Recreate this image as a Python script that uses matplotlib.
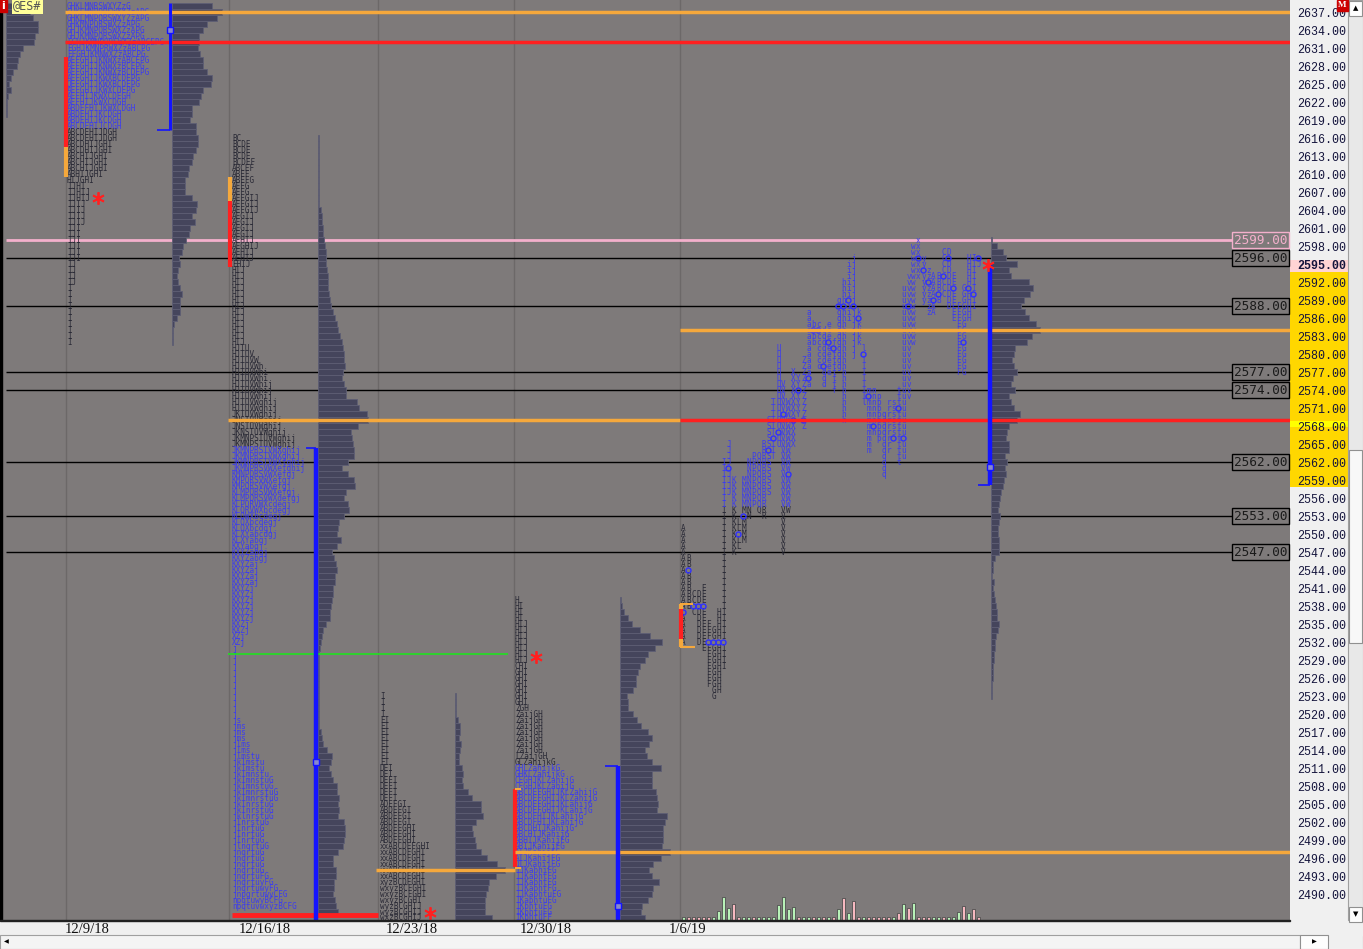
import matplotlib.pyplot as plt
from matplotlib.patches import Rectangle

W, H, DPI = 1363, 949, 100

BG = '#7e7a7a'
DARK = '#2a2a36'
BLUE = '#3c3cf0'
BAR = '#45455c'
BAR_EDGE = '#5e5e74'
LINE_BLUE = '#1414ff'
ORANGE = '#f5a83c'
RED = '#ff2020'

# ---------------- data ----------------
axis_prices = list(range(2490, 2638, 3))
week_labels = ['12/9/18', '12/16/18', '12/23/18', '12/30/18', '1/6/19']

ref_levels = [2596, 2588, 2577, 2574, 2562, 2553, 2547]
pink_level = 2599

# partial week on the far left (histogram only)
wk0_top = 2638
wk0_hist = [22, 24, 27, 32, 32, 29, 28, 17, 14, 12, 11, 7, 5, 3, 5, 2, 1, 1, 1]

# week of 12/9
wk1_top = 2638
wk1_rows = [
    'GHKLMNRSWXYZzG', 'GHKLMNPQRSWXYZzAPG', 'GHKLMNPQRSWXYZzAPG', 'GHKMNPQRSWXZzAPG',
    'GHJKMNPQRSWXZzAPG', 'GHJKMNPQRSWXZzAPG', 'EGHJKMNPQRSWXZzABCEPG', 'EGHJKMNPRWXZzABCPG',
    'EFGHJKMNWXZzABCPG', 'AEFGHIJKNWXzABCEPG', 'AEFGHIJKNWXzBCEPG', 'AEFGHIJKNWXzBCDEPG',
    'AEFGHIJKWXBCDEPG', 'QEFGHIJKWXBCDEPG', 'AEFGHIJKWXCDEPG', 'AEFHIJKWXCDEGH',
    'AEFHIJKWXCDGH', 'ABDEFHIJKWXCDGH', 'ABDEHIJKCDGH', 'ABDEHIJKCDGH', 'ABCDEHIJCDGH',
    'ABCDEHIJDGH', 'ABCDEHIJDGH', 'ABCDHIJGHI', 'ABCDHIJGHI', 'ABCHIJGHI', 'ABCHIJGHI',
    'ABCHIJGHI', 'ABHIJGHI', 'HIJGHI', 'IJHI', 'IJHIJ', 'IJHIJ', 'IJIJ', 'IJIJ', 'IJIJ',
    'IJIJ', 'IJI', 'IJI', 'IJI', 'IJI', 'IJI', 'IJI', 'IJ', 'IJ', 'IJ', 'IJ',
    'I', 'I', 'I', 'I', 'I', 'I', 'I', 'I', 'I', 'I',
]
wk1_blue = range(0, 21)
wk1_hist = [40, 50, 45, 35, 31, 27, 27, 26, 28, 31, 31, 35, 40, 39, 31, 29, 27, 20, 20, 18,
            24, 24, 26, 26, 24, 21, 20, 17, 16, 13, 13, 13, 20, 25, 24, 20, 23, 18, 17, 14,
            11, 10, 7, 8, 6, 5, 6, 8, 10, 8, 8, 8, 5, 2, 1, 1, 1]

# week of 12/16
wk2_top = 2616
wk2_rows = [
    'BC', 'BCDE', 'BCDE', 'BCDE', 'BCDEF', 'ABCEF', 'ABEF', 'ABEFG', 'AEFG', 'AEFG',
    'AEFGIJ', 'AEFGIJ', 'AEFGIJ', 'AEGIJ', 'AEGIJ', 'AEGIJ', 'AEGIJ', 'AEHIJ', 'AEGHIJ',
    'AEHIJ', 'AEHIJ', 'EHIJ', 'HIJ', 'HIJ', 'HIJ', 'HIJ', 'HIJ', 'HIJ', 'HIJ', 'HIJ',
    'HIJ', 'HIJ', 'HIJ', 'HIJ', 'HIJ', 'HJTU', 'HJTUV', 'HJTUVW', 'HJTUVWh', 'HJTUVWhi',
    'HJTUVWhi', 'HJTUVWhij', 'HJTUVWhij', 'HJTUVWhij', 'HJTUVWghij', 'HJTUVWghij',
    'JKTUVWghij', 'JNSTUVWghij', 'JNSTUVWghij', 'JKNSTUVWghij', 'JKMNPSTUVWghij',
    'JKMNPSTUVWghij', 'JKMNPRSTVWXghij', 'JKMNPRSTVWXghij', 'JKMNPRSTVWXfghij',
    'JKMNPRSVWXefghij', 'KMNPQRSVWXefgj', 'KMPQRSVWXefgj', 'KMPQRSVWXefgj',
    'KLMPQRSVWXefgj', 'KLMPQRSVWXdefgj', 'KLPQRVWXcdegj', 'KLQRVWXbcdegj', 'KLQWXbcdegj',
    'KLQXbcdegj', 'KLQXbcdgj', 'KLXYabcdgj', 'KLXYabgj', 'KXYabgj', 'KXYZabgj', 'KXYZabgj',
    'KXYZaj', 'KXYZaj', 'KXYZaj', 'KXYZaj', 'KXYZj', 'KXYZj', 'KXYZj', 'KXYZj', 'KXYZj',
    'KXYZj', 'KXZj', 'KXZj', 'XZj', 'XZj', 'j', 'j', 'j', 'j', 'j', 'j', 'j', 'j', 'j',
    'j', 'j', 'j', 'js', 'jms', 'jms', 'jms', 'jlms', 'jlms', 'jlmstu', 'jklmstu',
    'jklmstu', 'jklmnstu', 'jklmnstuG', 'jklmnstuG', 'jklmnrstuG', 'jklmnrstuG',
    'jklnrstuG', 'jklnrstuG', 'jklnrstuG', 'jlnrstuG', 'jlnrtuG', 'jlnrtuG', 'jlnrtuG',
    'jlnqrtuG', 'jnqrtuG', 'jnqrtuG', 'jnqrtuG', 'jnqrtuG', 'jnqrtuFG', 'jnqrtuyFG',
    'jnqrtuwyFG', 'jnpqrtuwyCFG', 'npqtuwyBCFG', 'npqtuvwxyzBCFG',
]
wk2_blue = range(52, 130)
wk2_hist = [1, 1, 1, 1, 1, 1, 1, 1, 1, 1, 1, 1,
            3, 4, 4, 5, 5, 6, 7, 8, 8, 8, 9, 10, 10, 10, 11,
            12, 13, 15, 17, 19, 20, 22, 24, 25, 26, 26, 27, 25, 24,
            26, 28, 28, 39, 41, 49, 50, 40, 33, 34, 35, 36, 36, 30, 24, 30, 36, 37, 28, 26,
            30, 31, 26, 21, 20, 19, 23, 19, 14, 16,
            18, 19, 17, 17, 15, 15, 14, 13, 12, 12, 8, 5, 4, 3, 2,
            1, 1, 1, 1, 1, 1, 1, 1, 1, 1, 1, 1, 1,
            3, 4, 5, 9, 14, 13, 11, 13, 15, 19, 19, 21, 20, 21, 20, 26, 27, 27, 26, 25, 20,
            15, 15, 18, 18, 16, 16, 15, 17, 18, 20]

# week of 12/23
wk3_top = 2523
wk3_rows = [
    'I', 'I', 'I', 'I', 'EI', 'EI', 'EI', 'EI', 'EI', 'EI', 'EI', 'EI', 'DEI', 'DEI',
    'DEFI', 'DEFI', 'DEFI', 'DEFI', 'ADEFGI', 'ABDEFGI', 'ABDEFGI', 'ABDEFGI',
    'ABDEFGHI', 'ABDEFGHI', 'ABDEFGHI', 'xxABCDEFGHI', 'xxABCDFGHI', 'xxABCDFGHI',
    'xxABCDFGHI', 'xxABCDFGHI', 'xxABCDFGHI', 'xyzBCDFGHI', 'wxyzBCFGHI', 'wxyzBCFGHI',
    'wxyzBCGHI', 'wyzBCGHIJ', 'wyzBCGHIJ', 'wxzBCGHIJ',
]
wk3_blue = range(0)
wk3_hist = [1, 1, 1, 1, 3, 5, 5, 4, 6, 5, 4, 4, 7, 8, 7, 8, 13, 17, 26, 26, 28, 21, 17, 18,
            20, 21, 26, 32, 42, 50, 41, 34, 33, 31, 30, 30, 30, 37]

# week of 12/30
wk4_top = 2539
wk4_rows = [
    'H', 'HI', 'HI', 'HI', 'HIJ', 'HIJ', 'HIJ', 'HIJ', 'HIJ', 'HIJ', 'HIJ', 'CHI', 'GHI',
    'GHI', 'GHI', 'GHI', 'GHI', 'GHI', 'ZGH', 'ZaijGH', 'ZaijGH', 'ZaijGH', 'ZaijGH',
    'ZaijGH', 'ZaijGH', 'ZaijGH', 'LZaijGH', 'GLZahijkG', 'GHLZahijkG', 'GHKLZahijkG',
    'CEGHJKLZahijG', 'CEGHJKLZahijG', 'ABCDEFGHIJKLZahijG', 'ABCDEFGHIJKLZahijG',
    'ABCDEFGHIJKLahijG', 'ABCDEFGHIJKLahijG', 'ABCDFHIJKLahijG', 'ABCDFHIJKLahijG',
    'ABCDHIJKahijG', 'ABCHIJKahijG', 'ABHIJKahijFG', 'ABIJKahijFG', 'AIJKahijFG',
    'AIJKahijFG', 'QIJKahijFG', 'IJKabhiFG', 'IJKabhtFG', 'IJKabhtFG', 'IJKabhtFG',
    'IJKabhtuFG', 'IKabhtuFG', 'IKbhtuFG', 'IKbhtuFG', 'IKbhtuFF',
]
wk4_blue = range(28, 54)
wk4_hist = [1, 2, 4, 8, 12, 20, 30, 42, 35, 28, 25, 20, 18,
            16, 16, 13, 7, 8, 8, 13, 17, 21, 28, 32, 29, 25, 27, 32, 41, 32, 32, 32, 36,
            37, 38, 37, 47, 45, 43, 43, 43, 42, 50, 41, 33, 29, 32, 39, 33, 32, 28, 22, 21, 25]

# week of 1/6 : split profile, one column per 30 min period
wk5_letters = 'ABCDEFGHIJKLMNPQRSTUVWXYZ' + 'abcdefghijklmnpqrstuvwxyz' + 'ABCDEFGHIJ'
wk5_high = [2551, 2546, 2540, 2540, 2541, 2535, 2534, 2537, 2562, 2565,
            2559, 2552, 2559, 2562, 2563, 2563, 2565, 2569, 2572, 2581,
            2575, 2572, 2577, 2576, 2579, 2587, 2585, 2585, 2584, 2585,
            2582, 2589, 2592, 2595, 2596, 2587, 2581, 2574, 2574, 2573,
            2570, 2572, 2572, 2574, 2591, 2593, 2598, 2599, 2596, 2594,
            2593, 2593, 2597, 2597, 2593, 2588, 2591, 2596, 2596, 2596]
wk5_low = [2532, 2538, 2537, 2532, 2531, 2525, 2523, 2524, 2528, 2557,
           2547, 2548, 2549, 2553, 2555, 2554, 2553, 2557, 2563, 2565,
           2547, 2554, 2565, 2570, 2568, 2575, 2582, 2578, 2575, 2577,
           2574, 2578, 2569, 2586, 2580, 2582, 2572, 2564, 2567, 2566,
           2560, 2564, 2566, 2562, 2563, 2573, 2582, 2593, 2589, 2587,
           2587, 2589, 2590, 2588, 2586, 2577, 2577, 2586, 2588, 2595]
# price of the open mark in each period (None where not shown)
wk5_open = [2537, 2544, 2538, 2538, 2538, 2532, 2532, 2532, 2532, 2561,
            None, 2550, 2553, None, None, None, None, 2564, 2566, 2567,
            2570, 2560, 2569, 2574, 2569, 2576, 2584, 2584, 2578, 2582,
            2581, 2588, 2588, 2589, 2588, 2586, 2580, 2573, 2568, 2574,
            None, None, 2566, 2571, 2566, 2588, None, 2596, 2594, 2592,
            2589, 2590, 2593, 2596, 2591, None, 2582, 2591, 2590, 2596]
wk5_blue_above = 2555
wk5_top = 2599
wk5_hist = [1, 6, 12, 15, 26, 18, 20, 38, 42, 39, 33, 30, 34, 38, 45, 49, 41, 36, 24, 23,
            21, 23, 26, 22, 20, 24, 18, 20, 23, 29, 26, 18, 16, 15, 18, 18, 14, 16, 14, 15,
            13, 12, 10, 9, 8,
            7, 9, 8, 7, 7, 8, 8, 8, 4, 2, 2, 1, 3, 2, 3, 4, 5, 6, 6, 8, 7, 5, 4, 4, 3, 3,
            2, 2, 2, 1, 1, 1]
wk5_vol = [3, 3, 3, 3, 3, 3, 3, 9, 23, 12,
           16, 3, 3, 3, 3, 3, 3, 3, 3, 15,
           23, 11, 13, 3, 3, 3, 3, 3, 3, 3,
           3, 11, 22, 7, 19, 3, 3, 3, 3, 3,
           3, 3, 3, 7, 16, 12, 17, 3, 3, 3,
           3, 3, 3, 3, 3, 8, 14, 7, 11, 3]
wk5_dir = 'gpppppgggg' + 'ppggpggggg' + 'gggpggpgpg' + 'pgpgppgppp' + 'ppgpgpgppp' + 'ggpgggpgpp'

# ---------------- layout ----------------
PLOT_L, PLOT_R, PLOT_B = 2, 1290, 920
ROW_PX = 6.0                      # pixels per price point
Y_TOP = 2637 + 12 / ROW_PX
Y_BOT = 2637 - (PLOT_B - 12) / ROW_PX
FS = 5.5
MONO = 'DejaVu Sans Mono'

fig = plt.figure(figsize=(W / DPI, H / DPI), dpi=DPI, facecolor='#f0f0f0')
rect = [PLOT_L / W, 1 - PLOT_B / H, (PLOT_R - PLOT_L) / W, PLOT_B / H]
ax = fig.add_axes(rect, facecolor=BG)
ax.set_zorder(3)
ax.set_xlim(PLOT_L, PLOT_R)
ax.set_ylim(Y_BOT, Y_TOP)
for s in ax.spines.values():
    s.set_visible(False)

# right price scale panel (behind main axes)
axr = fig.add_axes([PLOT_R / W, 1 - PLOT_B / H, 58 / W, PLOT_B / H], facecolor='#f0f0f0')
axr.set_zorder(1)
axr.set_ylim(Y_BOT, Y_TOP)
axr.set_xlim(0, 1)
axr.axhspan(2557.8, 2593.7, color='#ffd700', lw=0)
axr.axhspan(2567.8, 2568.8, color='#ffff00', lw=0)
axr.axhspan(2593.7, 2595.7, color='#ffd4d4', lw=0)
axr.axis('off')

ax.yaxis.tick_right()
ax.set_yticks(axis_prices)
ax.set_yticklabels(['%.2f' % p for p in axis_prices], family='Liberation Mono',
                   fontsize=8.4, color='#14143c')
for lab, p in zip(ax.get_yticklabels(), axis_prices):
    if p == 2595:
        lab.set_fontweight('bold')
ax.tick_params(axis='y', length=0, pad=5)

week_x = [87, 265, 412, 546, 688]
ax.set_xticks(week_x)
ax.set_xticklabels(week_labels, family='Liberation Serif', fontsize=10.5, color='#111111')
ax.tick_params(axis='x', length=0, pad=2)

# week separators
for x in [66, 229, 378, 514, 680]:
    ax.axvline(x, color='#6c6868', lw=1, zorder=1)

# horizontal reference lines
ax.hlines(ref_levels, 6, 1232, color='black', lw=1, zorder=2)
ax.hlines(pink_level, 6, 1232, color='#f4b0cc', lw=2, zorder=2)
ax.hlines(2637, 65, PLOT_R, color=ORANGE, lw=2.5, zorder=6)
ax.hlines(2632, 65, PLOT_R, color=RED, lw=2.5, zorder=6)
ax.hlines(2584, 680, PLOT_R, color=ORANGE, lw=2.5, zorder=6)
ax.hlines(2569, 228, 680, color=ORANGE, lw=2.5, zorder=6)
ax.hlines(2569, 680, PLOT_R, color=RED, lw=2.5, zorder=6)
ax.hlines(2530, 228, 508, color='#20e020', lw=1.2, zorder=6)
ax.hlines(2497, 515, PLOT_R, color=ORANGE, lw=2.5, zorder=6)
ax.hlines(2494, 376, 515, color=ORANGE, lw=2.5, zorder=6)
ax.hlines(2486.5, 232, 378, color=RED, lw=3.5, zorder=6)

for p in ref_levels + [pink_level]:
    ec = '#f4b0cc' if p == pink_level else 'black'
    tc = '#f4b0cc' if p == pink_level else '#1a1a1a'
    ax.text(1234, p, '%.2f' % p, family=MONO, fontsize=9.2, color=tc,
            ha='left', va='center', zorder=7,
            bbox=dict(boxstyle='square,pad=0.12', facecolor=BG, edgecolor=ec, lw=1))

TXT = dict(family=MONO, fontsize=FS, va='center', zorder=4)


def draw_rows(top, rows, blue, x):
    for i, s in enumerate(rows):
        ax.text(x, top - i, s, color=BLUE if i in blue else DARK, ha='left', **TXT)


def draw_hist(top, hist, x):
    ys = [top - i for i in range(len(hist))]
    ax.barh(ys, hist, left=x, height=1.0, color=BAR, edgecolor=BAR_EDGE, lw=0.6, zorder=3)


draw_hist(wk0_top, wk0_hist, 6)
draw_rows(wk1_top, wk1_rows, wk1_blue, 67)
draw_hist(wk1_top, wk1_hist, 172)
draw_rows(wk2_top, wk2_rows, wk2_blue, 232)
draw_hist(wk2_top, wk2_hist, 318)
draw_rows(wk3_top, wk3_rows, wk3_blue, 380)
draw_hist(wk3_top, wk3_hist, 455)
draw_rows(wk4_top, wk4_rows, wk4_blue, 515)
draw_hist(wk4_top, wk4_hist, 620)
draw_hist(wk5_top, wk5_hist, 991)

# split profile of the current week: one column per period
ox, oy = [], []
for k, (ch, hi, lo, op) in enumerate(zip(wk5_letters, wk5_high, wk5_low, wk5_open)):
    cx = 683.5 + 5 * k
    for p in range(lo, hi + 1):
        if p == op:
            ox.append(cx)
            oy.append(p)
            continue
        ax.text(cx, p, ch, color=BLUE if p >= wk5_blue_above else DARK, ha='center', **TXT)
ax.plot(ox, oy, ls='none', marker='o', ms=3.6, mfc='none', mec='#3030ff', mew=1.0, zorder=5)

# volume per period
axv = fig.add_axes(rect)
axv.set_zorder(4)
axv.patch.set_alpha(0)
axv.axis('off')
axv.set_xlim(PLOT_L, PLOT_R)
axv.set_ylim(0, PLOT_B)
vx = [683.5 + 5 * k for k in range(len(wk5_vol))]
vc = ['#b8f2b8' if d == 'g' else '#f6b8c0' for d in wk5_dir]
axv.bar(vx, wk5_vol, width=2.6, bottom=0, color=vc, edgecolor='#4e4e4e', lw=0.6)

# value area bars
va_bars = [(66.5, 2629.5, 2614.5, RED), (66.5, 2614.5, 2609.5, ORANGE),
           (230, 2609.5, 2605.5, ORANGE), (230, 2605.5, 2594.5, RED),
           (515, 2507.5, 2494.5, RED), (681, 2537.5, 2532.5, RED)]
for x, a, b, c in va_bars:
    ax.vlines(x, b, a, color=c, lw=3, zorder=5)
for x0, x1, p in [(515, 521, 2507.5), (515, 521, 2494.3), (680, 693, 2538.3), (680, 695, 2531.2)]:
    ax.hlines(p, x0, x1, color=ORANGE, lw=1.5, zorder=5)
ax.vlines(681, 2531.2, 2532.5, color=ORANGE, lw=3, zorder=5)
ax.vlines(681, 2537.5, 2538.3, color=ORANGE, lw=3, zorder=5)

# initial balance / range lines
ib = [(170, 2638.5, 2617.3, 157, 2617.3, 2634.0, 2.2),
      (316, 2564.3, Y_BOT, 306, 2564.3, 2512.0, 3.2),
      (618, 2511.3, Y_BOT, 605, 2511.3, 2488.0, 3.2),
      (990, 2594.8, 2558.2, 978, 2558.2, 2561.2, 3.2)]
for x, a, b, xt, pt, sq, lw in ib:
    ax.vlines(x, b, a, color=LINE_BLUE, lw=lw, zorder=6)
    ax.hlines(pt, xt, x, color=LINE_BLUE, lw=1.2, zorder=6)
    ax.plot(x, sq, marker='s', ms=4.5, mfc='#8888cc', mec=LINE_BLUE, mew=1, zorder=7)

for x, p in [(98, 2606), (430, 2486.8), (536, 2529.5), (988, 2594.8)]:
    ax.plot(x, p, marker=(6, 2, 0), ms=9, mec=RED, mew=1.3, zorder=8)

# window chrome
fig.patches.append(Rectangle((0, 1 - PLOT_B / H), 2 / W, PLOT_B / H, transform=fig.transFigure,
                             color='black', zorder=10))
fig.patches.append(Rectangle((0, 1 - 12 / H), 7 / W, 12 / H, transform=fig.transFigure,
                             color='#cc0000', zorder=10))
fig.text(3.5 / W, 1 - 6 / H, 'i', color='white', fontsize=8, ha='center', va='center',
         weight='bold', zorder=11)
fig.text(13 / W, 1 - 6 / H, '@ES#', color='#555555', fontsize=8.5, family=MONO,
         ha='left', va='center', zorder=11,
         bbox=dict(boxstyle='square,pad=0.1', facecolor='#ffff99', edgecolor='none'))
fig.patches.append(Rectangle((1337 / W, 1 - 11 / H), 11 / W, 11 / H, transform=fig.transFigure,
                             color='#cc0000', zorder=10))
fig.text(1342.5 / W, 1 - 5 / H, 'M', color='white', fontsize=6.5, family='Liberation Serif',
         ha='center', va='center', weight='bold', zorder=11)

# scroll bars
fig.patches.append(Rectangle((1348 / W, 1 - 920 / H), 15 / W, 920 / H, transform=fig.transFigure,
                             facecolor='#e8e8e8', edgecolor='#a0a0a0', lw=0.8, zorder=9))
fig.patches.append(Rectangle((1349 / W, 1 - 643 / H), 13 / W, 193 / H, transform=fig.transFigure,
                             facecolor='#f8f8f8', edgecolor='#909090', lw=0.8, zorder=9))
fig.patches.append(Rectangle((1349 / W, 1 - 16 / H), 13 / W, 15 / H, transform=fig.transFigure,
                             facecolor='#fdfdfd', edgecolor='#909090', lw=0.8, zorder=9))
fig.patches.append(Rectangle((1349 / W, 1 - 922 / H), 13 / W, 15 / H, transform=fig.transFigure,
                             facecolor='#fdfdfd', edgecolor='#909090', lw=0.8, zorder=9))
fig.text(1355.5 / W, 1 - 8 / H, '\u25b2', fontsize=5, ha='center', va='center', zorder=11)
fig.text(1355.5 / W, 1 - 914 / H, '\u25bc', fontsize=5, ha='center', va='center', zorder=11)
fig.patches.append(Rectangle((0, 1 - 921 / H), PLOT_R / W, 1.2 / H, transform=fig.transFigure,
                             color='#222222', zorder=10))
fig.patches.append(Rectangle((0, 0), 1300 / W, 14 / H, transform=fig.transFigure,
                             facecolor='#f4f4f4', edgecolor='#a0a0a0', lw=0.8, zorder=9))
fig.patches.append(Rectangle((1, 1 / H), 11 / W, 12 / H, transform=fig.transFigure,
                             facecolor='#fdfdfd', edgecolor='#909090', lw=0.8, zorder=9))
fig.patches.append(Rectangle((1300 / W, 0), 28 / W, 14 / H, transform=fig.transFigure,
                             facecolor='#fdfdfd', edgecolor='#909090', lw=0.8, zorder=9))
fig.text(6 / W, 7 / H, '\u25c0', fontsize=4.5, ha='center', va='center', zorder=11)
fig.text(1314 / W, 7 / H, '\u25b6', fontsize=4.5, ha='center', va='center', zorder=11)

fig.savefig('out.png', dpi=DPI, facecolor=fig.get_facecolor())
